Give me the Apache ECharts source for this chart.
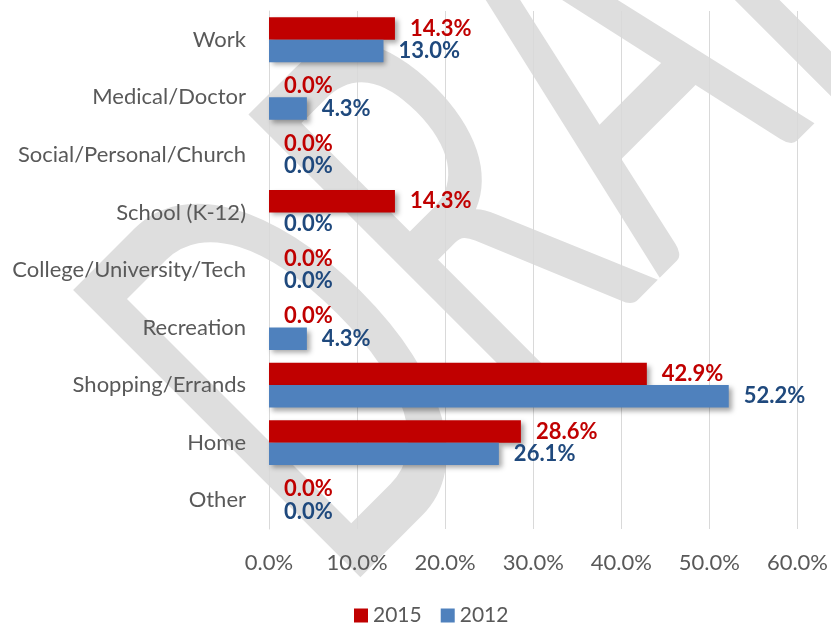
<!DOCTYPE html>
<html>
<head>
<meta charset="utf-8">
<title>Trip purpose by survey year</title>
<script src="https://cdn.jsdelivr.net/npm/echarts@6/dist/echarts.min.js"></script>
<style>
  html, body { margin: 0; padding: 0; background: #ffffff; }
  #chart { width: 831px; height: 627px; }
</style>
</head>
<body>
<div id="chart"></div>
<script>
// Trip purposes, listed top to bottom
const categories = [
  'Work', 'Medical/Doctor', 'Social/Personal/Church', 'School (K-12)',
  'College/University/Tech', 'Recreation', 'Shopping/Errands', 'Home', 'Other'
];

// Share of trips (%) per purpose
const values2015 = [14.3, 0.0, 0.0, 14.3, 0.0, 0.0, 42.9, 28.6, 0.0];
const values2012 = [13.0, 4.3, 0.0, 0.0, 0.0, 4.3, 52.2, 26.1, 0.0];

const seriesNames = ['2015', '2012'];

// Percent axis
const axisMin = 0;
const axisMax = 60;
const axisStep = 10;

const FONT = 'Lato, "Open Sans", "Noto Sans", sans-serif';

const chart = echarts.init(document.getElementById('chart'), null, { renderer: 'canvas' });

function barSeries(name, data, fill, textColor) {
  return {
    name: name,
    type: 'bar',
    data: data,
    barGap: '0%',
    barCategoryGap: '22%',
    itemStyle: {
      color: fill,
      shadowColor: 'rgba(0,0,0,0.35)',
      shadowBlur: 5,
      shadowOffsetX: 3,
      shadowOffsetY: 3
    },
    label: {
      show: true,
      position: 'right',
      distance: 15,
      color: textColor,
      fontFamily: FONT,
      fontWeight: 'bold',
      fontSize: 22,
      formatter: p => p.value.toFixed(1) + '%'
    }
  };
}

chart.setOption({
  backgroundColor: '#ffffff',
  animation: false,
  // Diagonal "DRAFT" stamp behind the plot
  graphic: [{
    type: 'group',
    z: -100,
    silent: true,
    x: 210,
    y: 469,
    rotation: Math.PI / 4,
    children: [{
      type: 'text',
      scaleX: 0.575,
      style: {
        text: 'DRAFT',
        fill: '#dedede',
        font: '400 567px ' + FONT,
        align: 'left',
        verticalAlign: 'middle'
      }
    }]
  }],
  grid: { left: 269, right: 29, top: 11, bottom: 98, containLabel: false },
  legend: {
    top: 605,
    left: 354,
    padding: 0,
    itemWidth: 14,
    itemHeight: 14,
    itemGap: 19,
    icon: 'rect',
    textStyle: { color: '#595959', fontSize: 21, fontFamily: FONT },
    data: seriesNames
  },
  xAxis: {
    type: 'value',
    min: axisMin,
    max: axisMax,
    interval: axisStep,
    axisLine: { show: false },
    axisTick: { show: false },
    splitLine: { show: true, lineStyle: { color: '#d9d9d9', width: 1 } },
    axisLabel: {
      color: '#595959',
      fontSize: 22,
      fontFamily: FONT,
      margin: 23,
      formatter: v => v.toFixed(1) + '%'
    }
  },
  yAxis: {
    type: 'category',
    inverse: true,
    data: categories,
    axisLine: { show: true, lineStyle: { color: '#d9d9d9' } },
    axisTick: { show: false },
    axisLabel: {
      color: '#595959',
      fontSize: 22,
      fontFamily: FONT,
      margin: 23
    }
  },
  series: [
    barSeries(seriesNames[0], values2015, '#c00000', '#c00000'),
    barSeries(seriesNames[1], values2012, '#4f81bd', '#1f497d')
  ]
});
</script>
</body>
</html>
